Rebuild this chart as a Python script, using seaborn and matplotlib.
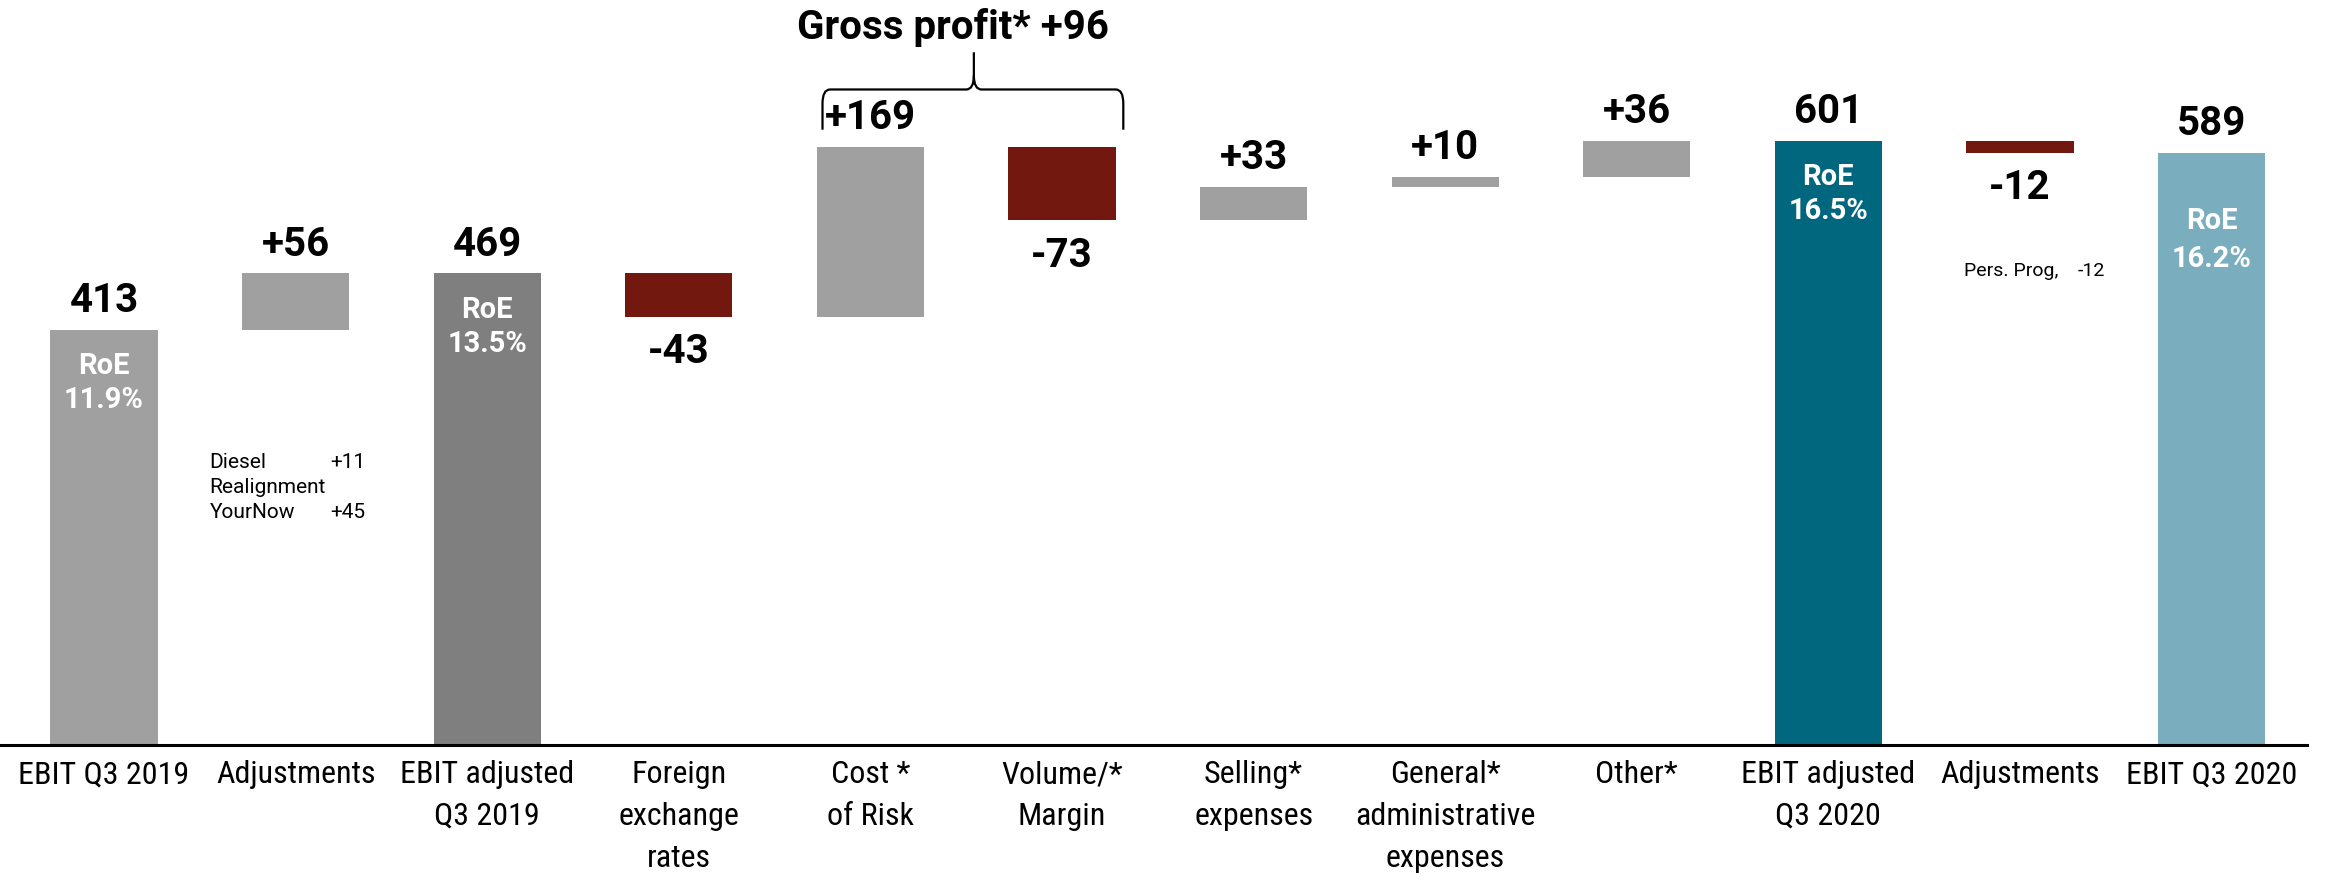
import numpy as np
import pandas as pd
import matplotlib.pyplot as plt
import seaborn as sns
from matplotlib.path import Path
from matplotlib.patches import PathPatch

# data
labels = ['EBIT Q3 2019', 'Adjustments', 'EBIT adjusted\nQ3 2019', 'Foreign\nexchange\nrates',
          'Cost *\nof Risk', 'Volume/*\nMargin', 'Selling*\nexpenses', 'General*\nadministrative\nexpenses',
          'Other*', 'EBIT adjusted\nQ3 2020', 'Adjustments', 'EBIT Q3 2020']
values = [413, 56, 469, -43, 169, -73, 33, 10, 36, 601, -12, 589]
is_total = [True, False, True, False, False, False, False, False, False, True, False, True]
value_text = ['413', '+56', '469', '-43', '+169', '-73', '+33', '+10', '+36', '601', '-12', '589']
roe = {0: '11.9%', 2: '13.5%', 9: '16.5%', 11: '16.2%'}
bar_colors = ['#a0a0a0', '#a0a0a0', '#7f7f7f', '#72180f', '#a0a0a0', '#72180f', '#a0a0a0',
              '#a0a0a0', '#a0a0a0', '#00677f', '#72180f', '#7aaebf']

gross_profit_text = 'Gross profit* +96'
note_adj_2019 = [('Diesel', '+11'), ('Realignment', ''), ('YourNow', '+45')]
note_adj_2020 = [('Pers. Prog,', '-12')]

# waterfall bottoms/heights
bottoms, heights = [], []
level = 0
for v, tot in zip(values, is_total):
    if tot:
        bottoms.append(0)
        heights.append(v)
        level = v
    else:
        bottoms.append(min(level, level + v))
        heights.append(abs(v))
        level = level + v
tops = [b + h for b, h in zip(bottoms, heights)]

df = pd.DataFrame({'step': range(len(labels)), 'top': tops})

sns.set_style('white')
plt.rcParams['font.family'] = ['Roboto', 'DejaVu Sans']
plt.rcParams['text.color'] = 'black'
plt.rcParams['xtick.color'] = 'black'

fig = plt.figure(figsize=(23.33, 8.8), dpi=100)
ax = fig.add_axes([0, 0.1534, 0.989, 0.8466])

sns.barplot(data=df, x='step', y='top', color='#a0a0a0', width=0.56, ax=ax,
            errorbar=None, saturation=1)

# turn the full-height bars into floating waterfall bars
for p, b, h, c in zip(ax.patches, bottoms, heights, bar_colors):
    p.set_y(b)
    p.set_height(h)
    p.set_facecolor(c)
    p.set_edgecolor('none')

ax.set_xlim(-0.543, 11.5)
ax.set_ylim(0, 741)
ax.set_xlabel('')
ax.set_ylabel('')
ax.set_yticks([])
ax.set_xticks(range(len(labels)))
ax.set_xticklabels(labels, fontsize=23, linespacing=1.55,
                   family=['Liberation Sans Narrow', 'Roboto Condensed', 'Roboto'])
ax.tick_params(axis='x', length=0, pad=11)
for s in ['top', 'right', 'left']:
    ax.spines[s].set_visible(False)
ax.spines['bottom'].set_linewidth(2.2)
ax.spines['bottom'].set_color('black')

# value labels
for i, (v, txt) in enumerate(zip(values, value_text)):
    if v >= 0:
        ax.annotate(txt, (i, tops[i]), xytext=(0, 7), textcoords='offset points',
                    ha='center', va='bottom', fontsize=29, fontweight='bold')
    else:
        ax.annotate(txt, (i, bottoms[i]), xytext=(0, -12), textcoords='offset points',
                    ha='center', va='top', fontsize=29, fontweight='bold')

# RoE labels inside total bars
for i, r in roe.items():
    off1, off2 = (68, 106) if i == 11 else (36, 70)
    ax.text(i, tops[i] - off1, 'RoE', ha='center', va='center', color='white',
            fontsize=21, fontweight='bold')
    ax.text(i, tops[i] - off2, r, ha='center', va='center', color='white',
            fontsize=21, fontweight='bold')

# small notes
for k, (name, num) in enumerate(note_adj_2019):
    y = 281 - 25 * k
    ax.text(0.55, y, name, fontsize=15, va='center', ha='left')
    if num:
        ax.text(1.18, y, num, fontsize=15, va='center', ha='left')
for name, num in note_adj_2020:
    ax.text(9.71, 471, name, fontsize=14, va='center', ha='left')
    ax.text(10.30, 471, num, fontsize=14, va='center', ha='left')

# brace over Cost of Risk and Volume/Margin
xl, xr, xc = 3.75, 5.32, 4.54
yb, yh, yp = 612, 652, 689
dx, dy = 0.04, 14
verts = [(xl, yb), (xl, yh - dy), (xl, yh), (xl + dx, yh),
         (xc - dx, yh), (xc, yh), (xc, yh + dy),
         (xc, yp),
         (xc, yh + dy), (xc, yh), (xc + dx, yh),
         (xr - dx, yh), (xr, yh), (xr, yh - dy),
         (xr, yb)]
codes = [Path.MOVETO, Path.LINETO, Path.CURVE3, Path.CURVE3,
         Path.LINETO, Path.CURVE3, Path.CURVE3,
         Path.LINETO,
         Path.MOVETO, Path.CURVE3, Path.CURVE3,
         Path.LINETO, Path.CURVE3, Path.CURVE3,
         Path.LINETO]
ax.add_patch(PathPatch(Path(verts, codes), facecolor='none', edgecolor='black', lw=1.6))
ax.text(4.43, 714, gross_profit_text, ha='center', va='center', fontsize=29, fontweight='bold')

fig.savefig('out.png', dpi=100)
